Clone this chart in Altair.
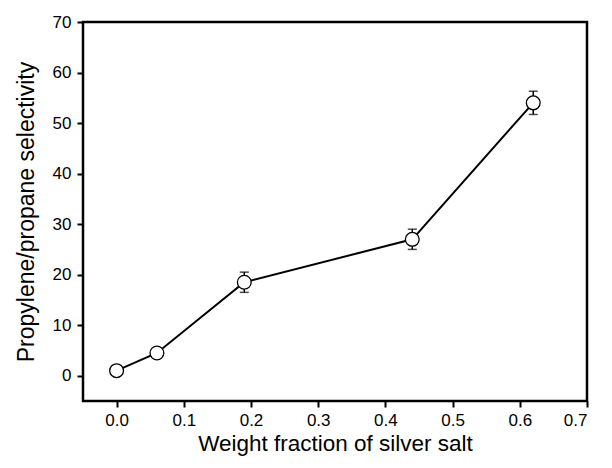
import altair as alt
import pandas as pd

x_vals = [0.0, 0.06, 0.19, 0.44, 0.62]
y_vals = [1.0, 4.5, 18.5, 27.0, 54.0]
y_err = [0.0, 0.0, 2.0, 2.0, 2.3]

df = pd.DataFrame({"x": x_vals, "y": y_vals, "err": y_err})
df["lo"] = df["y"] - df["err"]
df["hi"] = df["y"] + df["err"]
dfe = df[df["err"] > 0]

FONT = "Liberation Sans"

xs = alt.Scale(domain=[-0.05, 0.7], nice=False, zero=False)
ys = alt.Scale(domain=[-5, 70], nice=False, zero=False)

xax = alt.Axis(values=[0, 0.1, 0.2, 0.3, 0.4, 0.5, 0.6, 0.7], format=".1f",
               title="Weight fraction of silver salt", grid=False,
               tickSize=6, tickWidth=2, tickColor="black", domain=False,
               labelFont=FONT, labelFontSize=17, labelColor="black", labelPadding=5,
               titleFont=FONT, titleFontSize=22.5, titleFontWeight="normal",
               titleColor="black", titlePadding=4)
yax = alt.Axis(values=[0, 10, 20, 30, 40, 50, 60, 70], format="d",
               title="Propylene/propane selectivity", grid=False,
               tickSize=6, tickWidth=2, tickColor="black", domain=False,
               labelFont=FONT, labelFontSize=17, labelColor="black", labelPadding=6,
               titleFont=FONT, titleFontSize=23, titleFontWeight="normal",
               titleColor="black", titlePadding=14)

base = alt.Chart(df)

line = base.mark_line(color="black", strokeWidth=2).encode(
    x=alt.X("x:Q", scale=xs, axis=xax),
    y=alt.Y("y:Q", scale=ys, axis=yax),
)

err = alt.Chart(dfe).mark_rule(color="black", strokeWidth=1.5).encode(
    x=alt.X("x:Q", scale=xs),
    y=alt.Y("lo:Q", scale=ys),
    y2="hi:Q",
)
cap_lo = alt.Chart(dfe).mark_tick(color="black", orient="horizontal", size=9, thickness=1.5).encode(
    x=alt.X("x:Q", scale=xs),
    y=alt.Y("lo:Q", scale=ys),
)
cap_hi = alt.Chart(dfe).mark_tick(color="black", orient="horizontal", size=9, thickness=1.5).encode(
    x=alt.X("x:Q", scale=xs),
    y=alt.Y("hi:Q", scale=ys),
)

pts = base.mark_point(shape="circle", filled=True, fill="white", stroke="black",
                      strokeWidth=1.3, size=190, opacity=1).encode(
    x=alt.X("x:Q", scale=xs),
    y=alt.Y("y:Q", scale=ys),
)

chart = alt.layer(line, err, cap_lo, cap_hi, pts).properties(
    width=504, height=379,
    autosize=alt.AutoSizeParams(type="none"),
    padding={"left": 75, "top": 14, "right": 16, "bottom": 58},
    background="white",
).configure_view(stroke="black", strokeWidth=2.5)

chart.save("out.html", embed_options={"renderer": "svg", "actions": False})
